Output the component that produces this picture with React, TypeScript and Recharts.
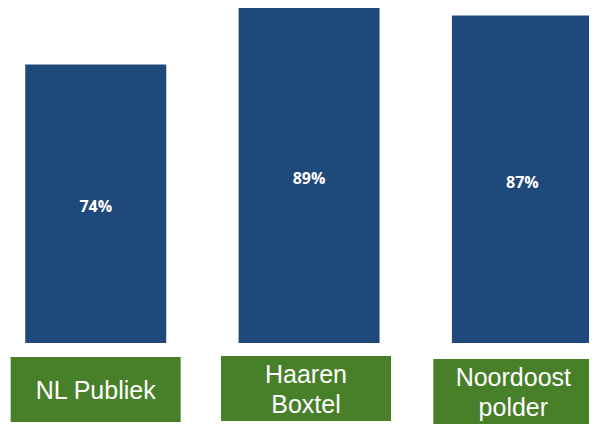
import React from "react";
import { Bar, BarChart, LabelList, XAxis, YAxis } from "recharts";

const regions = ["NL Publiek", "Haaren Boxtel", "Noordoost polder"];
const regionLines = [["NL Publiek"], ["Haaren", "Boxtel"], ["Noordoost", "polder"]];
const shares = [74, 89, 87];

const data = regions.map((name, i) => ({ name, share: shares[i] }));

const BLUE = "#1F487B";
const GREEN = "#48802A";

// small per-box layout tweaks to match the source slide
const boxShift = [0, -3, -9];
const boxWidth = [170, 170, 160];
const boxTop = [14, 13, 16];

const RegionTick = (props: any) => {
  const { x, y, index } = props;
  const lines = regionLines[index] ?? [];
  const w = boxWidth[index];
  const cx = x + boxShift[index];
  const top = y + boxTop[index];
  const h = 65;
  const lh = 30;
  const startY = top + h / 2 - ((lines.length - 1) * lh) / 2;
  return (
    <g>
      <rect x={cx - w / 2} y={top} width={w} height={h} fill={GREEN} />
      <text
        textAnchor="middle"
        fill="#fff"
        fontFamily="Liberation Sans, Arial, sans-serif"
        fontSize={25}
      >
        {lines.map((line, i) => (
          <tspan key={i} x={cx} y={startY + i * lh} dy="0.36em">
            {line}
          </tspan>
        ))}
      </text>
    </g>
  );
};

export default function App() {
  return (
    <div style={{ width: 589, height: 416, overflow: "hidden" }}>
      <div style={{ marginLeft: -19.25, width: 640 }}>
        <BarChart
          width={640}
          height={416}
          data={data}
          margin={{ top: 0, right: 0, bottom: 0, left: 0 }}
          barCategoryGap={36.25}
        >
          <XAxis
            dataKey="name"
            axisLine={false}
            tickLine={false}
            tickSize={0}
            tickMargin={0}
            height={81}
            interval={0}
            tick={<RegionTick />}
          />
          <YAxis hide domain={[0, 89]} />
          <Bar dataKey="share" fill={BLUE} isAnimationActive={false}>
            <LabelList
              dataKey="share"
              position="center"
              formatter={(v: any) => `${v}%`}
              fill="#fff"
              fontFamily="Open Sans, sans-serif"
              fontWeight="bold"
              fontSize={16}
              dy={3}
            />
          </Bar>
        </BarChart>
      </div>
    </div>
  );
}
